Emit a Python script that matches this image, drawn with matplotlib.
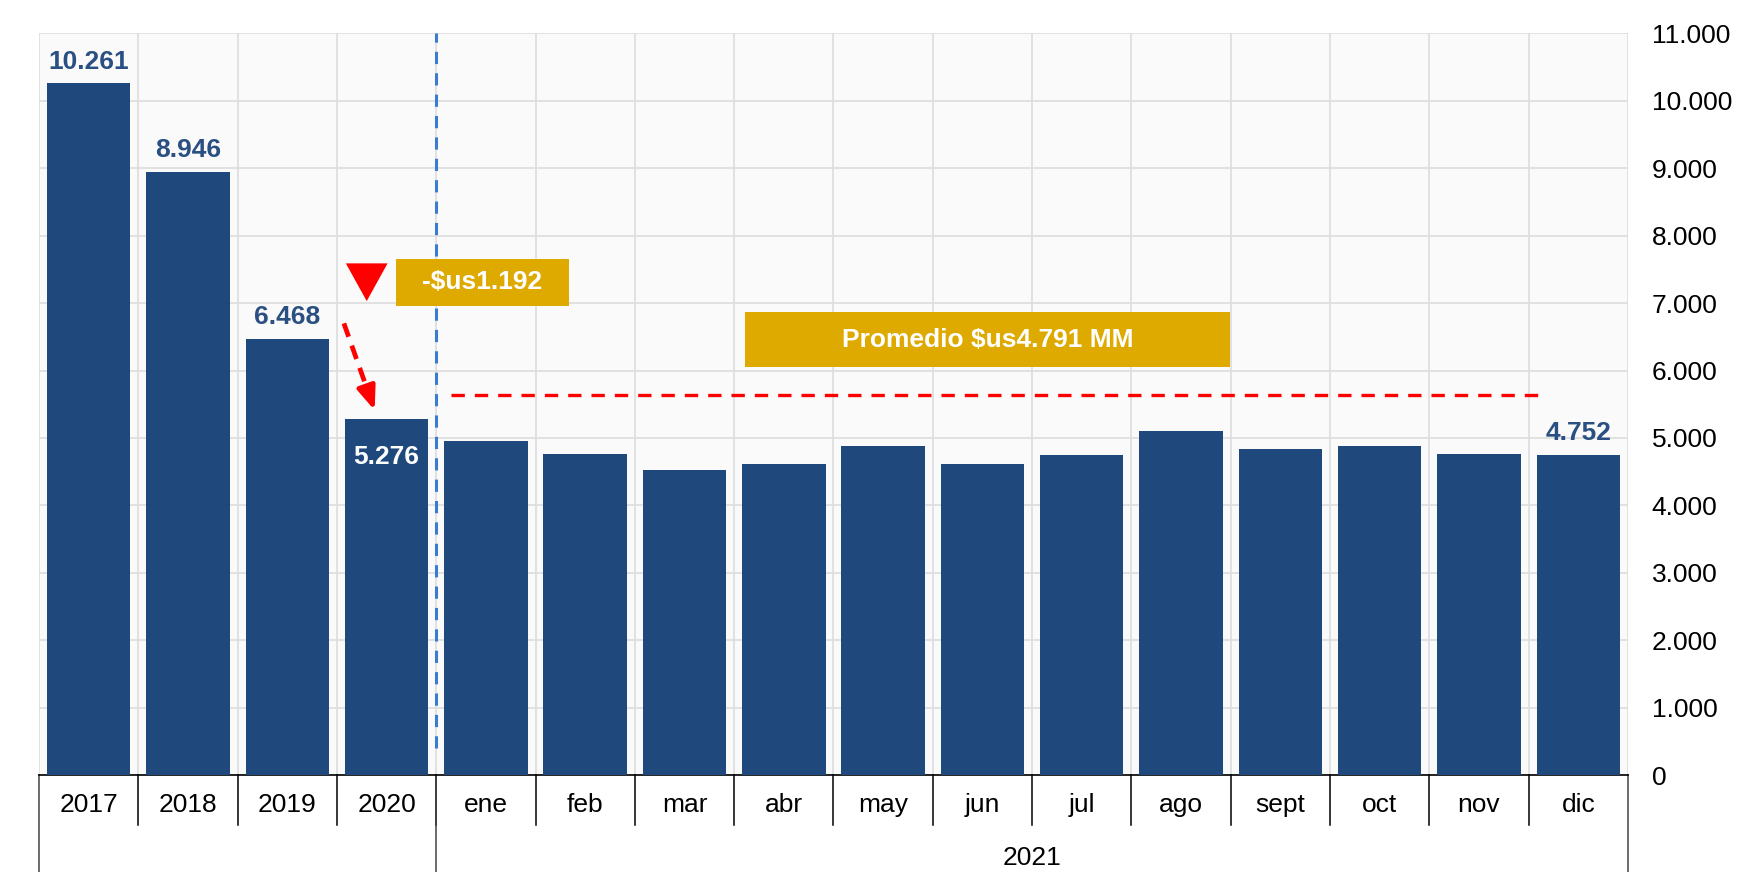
import matplotlib.pyplot as plt
import numpy as np

categories = ['2017', '2018', '2019', '2020', 'ene', 'feb', 'mar', 'abr', 'may',
              'jun', 'jul', 'ago', 'sept', 'oct', 'nov', 'dic']
values = [10261, 8946, 6468, 5276, 4960, 4760, 4520, 4615, 4880,
          4615, 4750, 5110, 4830, 4880, 4760, 4752]
yticks = list(range(0, 11001, 1000))
group_label = '2021'
avg_level = 5640
drop_label = '-$us1.192'
avg_label = 'Promedio $us4.791 MM'

bar_color = '#1F497D'
label_color = '#2A4F82'
gold = '#DEAA00'

def fmt(v):
    return f'{v:,}'.replace(',', '.')

fig = plt.figure(figsize=(17.49, 8.72), dpi=100, facecolor='white')
ax = fig.add_axes([0.0223, 0.1112, 0.9085, 0.8504])
ax.set_facecolor('#FAFAFA')

x = np.arange(len(categories))
ax.bar(x, values, width=0.84, color=bar_color, zorder=3)

ax.set_xlim(-0.5, len(categories) - 0.5)
ax.set_ylim(0, 11000)

# grid
ax.set_yticks(yticks)
ax.set_yticklabels([fmt(v) for v in yticks], fontsize=19, family='Liberation Sans')
ax.yaxis.tick_right()
ax.tick_params(axis='y', length=0, pad=17)
for lab in ax.get_yticklabels():
    lab.set_horizontalalignment('left')
ax.set_xticks(x)
ax.set_xticklabels(categories, fontsize=19, family='Liberation Sans')
ax.tick_params(axis='x', length=0, pad=13)
ax.set_xticks(np.arange(-0.5, len(categories)), minor=True)
ax.tick_params(axis='x', which='minor', length=0)
ax.grid(True, axis='y', color='#DDDDDD', linewidth=1.2, zorder=0)
ax.grid(True, axis='x', which='minor', color='#DDDDDD', linewidth=1.2, zorder=0)
ax.grid(False, axis='x', which='major')
for s in ['top', 'right', 'left']:
    ax.spines[s].set_visible(False)
ax.spines['bottom'].set_color('black')
ax.spines['bottom'].set_linewidth(1.2)

# category separators and group box
tr = ax.get_xaxis_transform()
for b in np.arange(0.5, len(categories) - 1):
    ax.plot([b, b], [0, -0.0675], transform=tr, color='black', lw=1.1, clip_on=False)
for b in [-0.5, 3.5, len(categories) - 0.5]:
    ax.plot([b, b], [0, -0.14], transform=tr, color='#444444', lw=1.1, clip_on=False)
ax.text(9.5, -0.112, group_label, transform=tr, ha='center', va='center',
        fontsize=19, family='Liberation Sans')

# value labels
for i in [0, 1, 2, 15]:
    ax.annotate(fmt(values[i]), (x[i], values[i]), xytext=(0, 7), textcoords='offset points',
                ha='center', va='bottom', fontsize=19, fontweight='bold',
                color=label_color, family='Liberation Sans', zorder=5)
ax.annotate(fmt(values[3]), (x[3], values[3]), xytext=(0, -27), textcoords='offset points',
            ha='center', va='center', fontsize=19, fontweight='bold',
            color='white', family='Liberation Sans', zorder=5)

# separator dashed line
ax.vlines(3.5, 400, 11000, colors='#3A7DD0', linestyles=(0, (4, 3)), lw=2.2, zorder=4)

# average dashed line
ax.hlines(avg_level, 3.65, 14.6, colors='#FF0000', linestyles=(0, (4, 3)), lw=2.4, zorder=4)

# drop arrow (dashed shaft, solid head) and triangle
x0, y0, x1, y1 = 2.57, 6700, 2.88, 5410
t = 0.78
xm, ym = x0 + t * (x1 - x0), y0 + t * (y1 - y0)
ax.plot([x0, xm], [y0, ym], color='#FF0000', lw=3.4, linestyle=(0, (3, 2)), zorder=5,
        solid_capstyle='butt', dash_capstyle='butt')
ax.annotate('', xy=(x1, y1), xytext=(xm, ym),
            arrowprops=dict(arrowstyle='-|>,head_width=0.55,head_length=1.4', color='#FF0000',
                            lw=3.4, shrinkA=0, shrinkB=0), zorder=5)
ax.fill([2.59, 3.01, 2.80], [7590, 7590, 7030], color='#FF0000', zorder=5, lw=0)

# gold boxes
ax.fill([3.095, 4.837, 4.837, 3.095], [6960, 6960, 7660, 7660], color=gold, zorder=5, lw=0)
ax.text((3.095 + 4.837) / 2, 7310, drop_label, ha='center', va='center', fontsize=19,
        fontweight='bold', color='white', family='Liberation Sans', zorder=6)
ax.fill([6.61, 11.49, 11.49, 6.61], [6055, 6055, 6865, 6865], color=gold, zorder=5, lw=0)
ax.text((6.61 + 11.49) / 2, 6460, avg_label, ha='center', va='center', fontsize=19,
        fontweight='bold', color='white', family='Liberation Sans', zorder=6)

fig.savefig('out.png', dpi=100, facecolor=fig.get_facecolor())
